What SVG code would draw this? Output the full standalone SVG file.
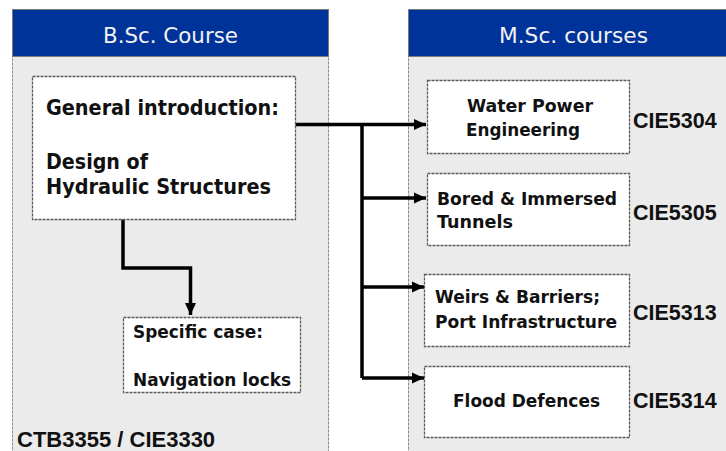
<svg xmlns="http://www.w3.org/2000/svg" width="726" height="451" viewBox="0 0 726 451">
<defs>
<style>
.panel{fill:#ebebeb;stroke:#8a8a8a;stroke-width:1;stroke-dasharray:3 1}
.header{fill:#003399;stroke:#7a7a7a;stroke-width:1}
.htext{font-family:"DejaVu Sans",Verdana,sans-serif;font-size:21px;fill:#f2f2f2;text-anchor:middle}
.box{fill:#ffffff;stroke:#5a5a5a;stroke-width:1.3;stroke-dasharray:3 1}
.bt{font-family:"DejaVu Sans",Verdana,sans-serif;font-weight:bold;fill:#111}
.big{font-size:21px}
.mid{font-size:18px}
.code{font-family:"Liberation Sans",Arial,sans-serif;font-weight:bold;font-size:21.5px;fill:#111}
.conn{fill:none;stroke:#000;stroke-width:3.5;stroke-linejoin:miter}
</style>
<marker id="arr" markerUnits="userSpaceOnUse" markerWidth="12" markerHeight="12" viewBox="0 0 12 12" refX="12" refY="6" orient="auto">
<path d="M0,0.5 L12,6 L0,11.5 Z" fill="#000"/>
</marker>
</defs>
<rect width="726" height="451" fill="#ffffff"/>

<g id="bsc-panel">
<rect class="panel" x="12.5" y="9.5" width="316" height="450"/>
<rect class="header" x="12.5" y="9.5" width="316" height="47"/>
<text class="htext" x="170.5" y="43" textLength="135" lengthAdjust="spacingAndGlyphs">B.Sc. Course</text>
<text class="code" x="17" y="447" style="font-size:22px">CTB3355 / CIE3330</text>
</g>

<g id="msc-panel">
<rect class="panel" x="408.5" y="9.5" width="330" height="450"/>
<rect class="header" x="408.5" y="9.5" width="330" height="47"/>
<text class="htext" x="573.5" y="43" textLength="149" lengthAdjust="spacingAndGlyphs">M.Sc. courses</text>
</g>

<g id="connectors">
<path class="conn" d="M295,124.5 H426" marker-end="url(#arr)"/>
<path class="conn" d="M362,124.5 V378"/>
<path class="conn" d="M362,198 H426" marker-end="url(#arr)"/>
<path class="conn" d="M362,287 H424" marker-end="url(#arr)"/>
<path class="conn" d="M362,378 H424" marker-end="url(#arr)"/>
<path class="conn" d="M123,219 V268 H190.5 V315" marker-end="url(#arr)"/>
</g>

<g id="general">
<rect class="box" x="32.5" y="76.5" width="263" height="143"/>
<text class="bt big" x="46" y="115" textLength="233" lengthAdjust="spacingAndGlyphs">General introduction:</text>
<text class="bt big" x="46" y="169" textLength="102" lengthAdjust="spacingAndGlyphs">Design of</text>
<text class="bt big" x="46" y="194" textLength="225" lengthAdjust="spacingAndGlyphs">Hydraulic Structures</text>
</g>

<g id="specific">
<rect class="box" x="123.5" y="317.5" width="177" height="75"/>
<text class="bt mid" x="133" y="338" textLength="130" lengthAdjust="spacingAndGlyphs">Specific case:</text>
<text class="bt mid" x="133" y="386" textLength="158" lengthAdjust="spacingAndGlyphs">Navigation locks</text>
</g>

<g id="water-power">
<rect class="box" x="427.5" y="80.5" width="202" height="73"/>
<text class="bt mid" x="467" y="112" textLength="126" lengthAdjust="spacingAndGlyphs">Water Power</text>
<text class="bt mid" x="466" y="136" textLength="114" lengthAdjust="spacingAndGlyphs">Engineering</text>
<text class="code" x="633" y="128">CIE5304</text>
</g>

<g id="tunnels">
<rect class="box" x="427.5" y="173.5" width="202" height="72"/>
<text class="bt mid" x="437" y="205" textLength="180" lengthAdjust="spacingAndGlyphs">Bored &amp; Immersed</text>
<text class="bt mid" x="437" y="228" textLength="76" lengthAdjust="spacingAndGlyphs">Tunnels</text>
<text class="code" x="633" y="220">CIE5305</text>
</g>

<g id="weirs">
<rect class="box" x="424.5" y="274.5" width="205" height="72"/>
<text class="bt mid" x="435" y="303" textLength="165" lengthAdjust="spacingAndGlyphs">Weirs &amp; Barriers;</text>
<text class="bt mid" x="435" y="328" textLength="182" lengthAdjust="spacingAndGlyphs">Port Infrastructure</text>
<text class="code" x="633" y="320">CIE5313</text>
</g>

<g id="flood">
<rect class="box" x="424.5" y="366.5" width="205" height="71"/>
<text class="bt mid" x="453" y="407" textLength="147" lengthAdjust="spacingAndGlyphs">Flood Defences</text>
<text class="code" x="633" y="408">CIE5314</text>
</g>
</svg>
